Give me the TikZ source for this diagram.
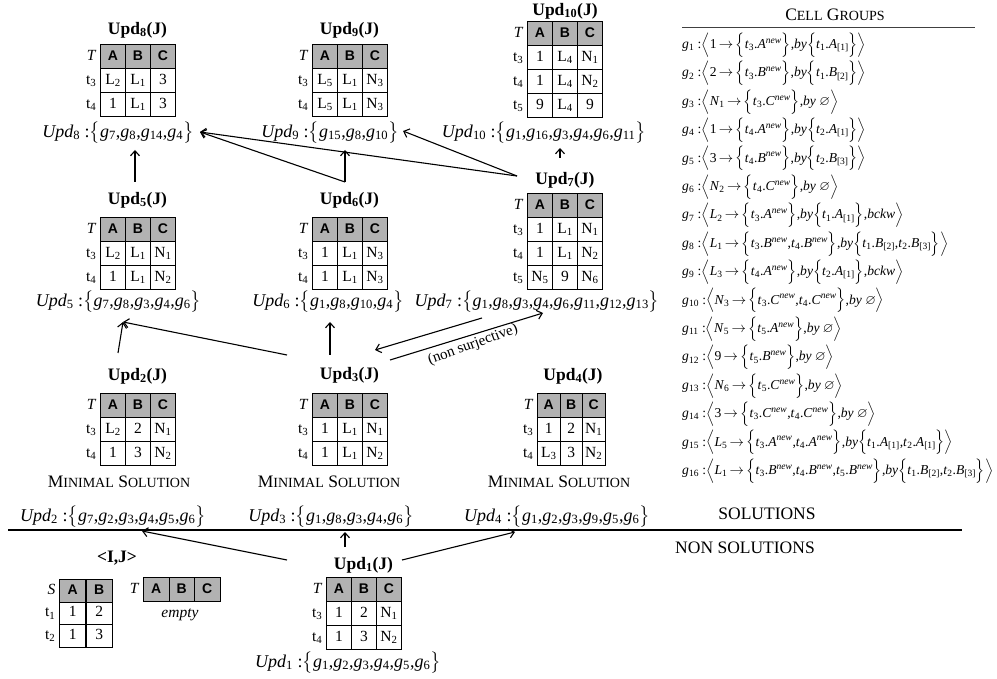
\documentclass[tikz,border=0pt]{standalone}
\usepackage{amsmath}
\usepackage{amssymb}
\usepackage{fontspec}
\setmainfont{Liberation Serif}
\newfontfamily\hdrfont{Liberation Sans}
\usetikzlibrary{matrix,arrows.meta}
\definecolor{hdrgray}{gray}{0.7}

% small helpers for the formulas
\newcommand\gi[1]{\textit{g}\textsubscript{#1}}
\newcommand\tv[1]{\textit{t}\textsubscript{#1}}
\newcommand\iv[2]{\textit{#1}\textsubscript{#2}}
\newcommand\nw[1]{\textit{#1}\textsuperscript{\itshape new}}
\newcommand\ix[2]{\textit{#1}\textsubscript{[#2]}}
\newcommand\Lbr{$\big\{$}
\newcommand\Rbr{$\big\}$}
\newcommand\Lang{$\Big\langle$}
\newcommand\Rang{$\Big\rangle$}
\newcommand\Lcb{$\Big\{$}
\newcommand\Rcb{$\Big\}$}
\newcommand\myto{$\,\rightarrow\,$}
\newcommand\Empt{$\varnothing$}
\newcommand\trow[1]{t\textsubscript{#1}}
\newcommand\Lx[1]{L\textsubscript{#1}}
\newcommand\Nx[1]{N\textsubscript{#1}}
\newcommand\smc[1]{{\fontsize{14}{14}\selectfont #1}}
% one cell group:  value -> targets , by sources
\newcommand\cg[3]{\Lang{}#1\myto\Lcb{}#2\Rcb,\textit{by}#3\Rang}
\newcommand\fm[2]{\textit{Upd}\textsubscript{#1} :\Lbr{}#2\Rbr}
\newcommand\rowlabs[2]{\foreach \r/\lab in {#2}
  \node[rowlbl] (#1-lab\r) at ([xshift=-4pt]#1-\r-1.base west) {\lab};}

\tikzset{
  cell/.style={draw, line width=1.1pt, minimum width=25pt, minimum height=24pt,
    text height=10.5pt, text depth=3.5pt,
    inner sep=0pt, font=\fontsize{15.5}{15.5}\selectfont},
  tbl/.style={matrix of nodes, ampersand replacement=\&, anchor=north west,
    inner sep=0pt, outer sep=0pt, column sep=-1.1pt, row sep=-1.1pt,
    nodes={cell},
    row 1/.style={nodes={fill=hdrgray, font=\hdrfont\bfseries\fontsize{14}{14}\selectfont}}},
  rowlbl/.style={anchor=base east, inner sep=0pt, font=\fontsize{15.5}{15.5}\selectfont},
  ttl/.style={font=\bfseries\fontsize{17.5}{17.5}\selectfont, inner sep=1pt},
  fmla/.style={font=\fontsize{18}{21}\selectfont, inner sep=1pt},
  note/.style={font=\fontsize{17.5}{18}\selectfont, inner sep=1pt},
  grp/.style={anchor=west, inner sep=0pt, font=\fontsize{13.6}{14.4}\selectfont},
  arr/.style={-{Straight Barb[length=5pt,width=9pt]}, line width=1.1pt},
}

\begin{document}
\begin{tikzpicture}[x=1pt,y=-1pt]
\useasboundingbox (0,0) rectangle (997,679);

% ---------- top row: Upd8, Upd9, Upd10 ----------
\node[ttl] (t8) at (137.5,30) {Upd\textsubscript{8}(J)};
\matrix (u8) at (100,44) [tbl] {
  A \& B \& C \\
  \Lx2 \& \Lx1 \& 3 \\
  1 \& \Lx1 \& 3 \\
};
\rowlabs{u8}{1/\textit{T},2/\trow3,3/\trow4}
\node[fmla] (f8) at (118,133) {\fm{8}{\gi{7},\gi{8},\gi{14},\gi{4}}};

\node[ttl] (t9) at (349.5,30) {Upd\textsubscript{9}(J)};
\matrix (u9) at (312,44) [tbl] {
  A \& B \& C \\
  \Lx5 \& \Lx1 \& \Nx3 \\
  \Lx5 \& \Lx1 \& \Nx3 \\
};
\rowlabs{u9}{1/\textit{T},2/\trow3,3/\trow4}
\node[fmla] (f9) at (330,133) {\fm{9}{\gi{15},\gi{8},\gi{10}}};

\node[ttl] (t10) at (565,11) {Upd\textsubscript{10}(J)};
\matrix (u10) at (527,21) [tbl] {
  A \& B \& C \\
  1 \& \Lx4 \& \Nx1 \\
  1 \& \Lx4 \& \Nx2 \\
  9 \& \Lx4 \& 9 \\
};
\rowlabs{u10}{1/\textit{T},2/\trow3,3/\trow4,4/\trow5}
\node[fmla] (f10) at (544,133) {\fm{10}{\gi{1},\gi{16},\gi{3},\gi{4},\gi{6},\gi{11}}};

% ---------- middle row: Upd5, Upd6, Upd7 ----------
\node[ttl] (t5) at (137.5,200) {Upd\textsubscript{5}(J)};
\matrix (u5) at (100,217) [tbl] {
  A \& B \& C \\
  \Lx2 \& \Lx1 \& \Nx1 \\
  1 \& \Lx1 \& \Nx2 \\
};
\rowlabs{u5}{1/\textit{T},2/\trow3,3/\trow4}
\node[fmla] (f5) at (118.5,302) {\fm{5}{\gi{7},\gi{8},\gi{3},\gi{4},\gi{6}}};

\node[ttl] (t6) at (349.5,200) {Upd\textsubscript{6}(J)};
\matrix (u6) at (312,217) [tbl] {
  A \& B \& C \\
  1 \& \Lx1 \& \Nx3 \\
  1 \& \Lx1 \& \Nx3 \\
};
\rowlabs{u6}{1/\textit{T},2/\trow3,3/\trow4}
\node[fmla] (f6) at (328,302) {\fm{6}{\gi{1},\gi{8},\gi{10},\gi{4}}};

\node[ttl] (t7) at (565,180) {Upd\textsubscript{7}(J)};
\matrix (u7) at (527,193) [tbl] {
  A \& B \& C \\
  1 \& \Lx1 \& \Nx1 \\
  1 \& \Lx1 \& \Nx2 \\
  \Nx5 \& 9 \& \Nx6 \\
};
\rowlabs{u7}{1/\textit{T},2/\trow3,3/\trow4,4/\trow5}
\node[fmla] (f7) at (537,302) {\fm{7}{\gi{1},\gi{8},\gi{3},\gi{4},\gi{6},\gi{11},\gi{12},\gi{13}}};

% ---------- minimal solutions: Upd2, Upd3, Upd4 ----------
\node[ttl] (t2) at (137.5,376) {Upd\textsubscript{2}(J)};
\matrix (u2) at (100,393) [tbl] {
  A \& B \& C \\
  \Lx2 \& 2 \& \Nx1 \\
  1 \& 3 \& \Nx2 \\
};
\rowlabs{u2}{1/\textit{T},2/\trow3,3/\trow4}
\node[note] (m2) at (119,482) {M\smc{INIMAL} S\smc{OLUTION}};
\node[fmla] (f2) at (113,517) {\fm{2}{\gi{7},\gi{2},\gi{3},\gi{4},\gi{5},\gi{6}}};

\node[ttl] (t3) at (349.5,375) {Upd\textsubscript{3}(J)};
\matrix (u3) at (312,393) [tbl] {
  A \& B \& C \\
  1 \& \Lx1 \& \Nx1 \\
  1 \& \Lx1 \& \Nx2 \\
};
\rowlabs{u3}{1/\textit{T},2/\trow3,3/\trow4}
\node[note] (m3) at (329,482) {M\smc{INIMAL} S\smc{OLUTION}};
\node[fmla] (f3) at (331,517) {\fm{3}{\gi{1},\gi{8},\gi{3},\gi{4},\gi{6}}};

\node[ttl] (t4) at (573,376) {Upd\textsubscript{4}(J)};
\matrix (u4) at (537,393) [tbl, nodes={minimum width=22.5pt}] {
  A \& B \& C \\
  1 \& 2 \& \Nx1 \\
  \Lx3 \& 3 \& \Nx2 \\
};
\rowlabs{u4}{1/\textit{T},2/\trow3,3/\trow4}
\node[note] (m4) at (559,482) {M\smc{INIMAL} S\smc{OLUTION}};
\node[fmla] (f4) at (557,517) {\fm{4}{\gi{1},\gi{2},\gi{3},\gi{9},\gi{5},\gi{6}}};

% ---------- separator between solutions and non solutions ----------
\coordinate (sepL) at (8,530);
\coordinate (sepR) at (962,530);
\draw[line width=1.8pt] (sepL) -- (sepR);
\node[note] (sol) at (767,514) {SOLUTIONS};
\node[note] (nsol) at (745,548) {NON SOLUTIONS};

% ---------- source instance <I,J> ----------
\node[ttl] (tij) at (117,558) {<I,J>};
\matrix (us) at (59,579) [tbl, nodes={minimum width=26.5pt, minimum height=22.5pt}] {
  A \& B \\
  1 \& 2 \\
  1 \& 3 \\
};
\rowlabs{us}{1/\textit{S},2/\trow1,3/\trow2}
\matrix (ut) at (143,577) [tbl, nodes={minimum width=25.5pt}] {
  A \& B \& C \\
};
\rowlabs{ut}{1/\textit{T}}
\node[note, font=\itshape\fontsize{15.5}{15.5}\selectfont] (emp) at (180,615) {empty};

% ---------- Upd1 ----------
\node[ttl] (t1) at (363.5,565) {Upd\textsubscript{1}(J)};
\matrix (u1) at (326,577) [tbl] {
  A \& B \& C \\
  1 \& 2 \& \Nx1 \\
  1 \& 3 \& \Nx2 \\
};
\rowlabs{u1}{1/\textit{T},2/\trow3,3/\trow4}
\node[fmla] (f1) at (348,663) {\fm{1}{\gi{1},\gi{2},\gi{3},\gi{4},\gi{5},\gi{6}}};

% ---------- derivation arrows ----------
\draw[arr] ([shift={(-2.5,-18)}]t5.center) -- ([shift={(17,17)}]f8.center);
\draw[arr] ([shift={(-4.5,-18)}]t6.center) -- ([shift={(15,17)}]f9.center);
\draw[arr] ([shift={(-4.5,-18)}]t6.center) -- ([shift={(82,-1)}]f8.center);
\draw[arr] ([shift={(-48,-4)}]t7.center) -- ([shift={(82,-1)}]f8.center);
\draw[arr] ([shift={(-48,-4)}]t7.center) -- ([shift={(73,-2)}]f9.center);
\draw[arr] ([shift={(-5,-22)}]t7.center) -- ([shift={(16,15)}]f10.center);
\draw[arr] ([shift={(-19.5,-23)}]t2.center) -- ([shift={(4.5,20)}]f5.center);
\draw[arr] ([shift={(-62.5,-20)}]t3.center) -- ([shift={(4.5,20)}]f5.center);
\draw[arr] ([shift={(-19.5,-20)}]t3.center) -- ([shift={(2,20)}]f6.center);
\draw[arr] ([shift={(-76.5,-5)}]t1.center) -- ([shift={(29,14)}]f2.center);
\draw[arr] ([shift={(-18.5,-18)}]t1.center) -- ([shift={(14,15)}]f3.center);
\draw[arr] ([shift={(38.5,-5)}]t1.center) -- ([shift={(-42,15)}]f4.center);
\draw[arr] ([shift={(-55,16)}]f7.center) -- ([shift={(25.5,-25)}]t3.center);
\draw[arr] ([shift={(40.5,-15)}]t3.center) -- ([shift={(6,11)}]f7.center);
\node[note, font=\fontsize{15}{15}\selectfont, rotate=20] (ns) at (473,345) {(non surjective)};

% ---------- cell groups ----------
\node[note] (cgh) at (835,15) {C\smc{ELL} G\smc{ROUPS}};
\coordinate (cgL) at (682,28);
\coordinate (cgR) at (975,28);
\draw[line width=1pt, black!75] (cgL) -- (cgR);
\node[grp] (g1) at (682,45.0) {\gi{1} :\cg{1}{\tv{3}.\nw{A}}{\Lcb\tv{1}.\ix{A}{1}\Rcb}};
\node[grp] (g2) at (682,73.4) {\gi{2} :\cg{2}{\tv{3}.\nw{B}}{\Lcb\tv{1}.\ix{B}{2}\Rcb}};
\node[grp] (g3) at (682,101.8) {\gi{3} :\cg{\iv{N}{1}}{\tv{3}.\nw{C}}{ \Empt}};
\node[grp] (g4) at (682,130.2) {\gi{4} :\cg{1}{\tv{4}.\nw{A}}{\Lcb\tv{2}.\ix{A}{1}\Rcb}};
\node[grp] (g5) at (682,158.6) {\gi{5} :\cg{3}{\tv{4}.\nw{B}}{\Lcb\tv{2}.\ix{B}{3}\Rcb}};
\node[grp] (g6) at (682,187.0) {\gi{6} :\cg{\iv{N}{2}}{\tv{4}.\nw{C}}{ \Empt}};
\node[grp] (g7) at (682,215.4) {\gi{7} :\cg{\iv{L}{2}}{\tv{3}.\nw{A}}{\Lcb\tv{1}.\ix{A}{1}\Rcb,\textit{bckw}}};
\node[grp] (g8) at (682,243.8) {\gi{8} :\cg{\iv{L}{1}}{\tv{3}.\nw{B},\tv{4}.\nw{B}}{\Lcb\tv{1}.\ix{B}{2},\tv{2}.\ix{B}{3}\Rcb}};
\node[grp] (g9) at (682,272.2) {\gi{9} :\cg{\iv{L}{3}}{\tv{4}.\nw{A}}{\Lcb\tv{2}.\ix{A}{1}\Rcb,\textit{bckw}}};
\node[grp] (g10) at (682,300.6) {\gi{10} :\cg{\iv{N}{3}}{\tv{3}.\nw{C},\tv{4}.\nw{C}}{ \Empt}};
\node[grp] (g11) at (682,329.0) {\gi{11} :\cg{\iv{N}{5}}{\tv{5}.\nw{A}}{ \Empt}};
\node[grp] (g12) at (682,357.4) {\gi{12} :\cg{9}{\tv{5}.\nw{B}}{ \Empt}};
\node[grp] (g13) at (682,385.8) {\gi{13} :\cg{\iv{N}{6}}{\tv{5}.\nw{C}}{ \Empt}};
\node[grp] (g14) at (682,414.2) {\gi{14} :\cg{3}{\tv{3}.\nw{C},\tv{4}.\nw{C}}{ \Empt}};
\node[grp] (g15) at (682,442.6) {\gi{15} :\cg{\iv{L}{5}}{\tv{3}.\nw{A},\tv{4}.\nw{A}}{\Lcb\tv{1}.\ix{A}{1},\tv{2}.\ix{A}{1}\Rcb}};
\node[grp] (g16) at (682,471.0) {\gi{16} :\cg{\iv{L}{1}}{\tv{3}.\nw{B},\tv{4}.\nw{B},\tv{5}.\nw{B}}{\Lcb\tv{1}.\ix{B}{2},\tv{2}.\ix{B}{3}\Rcb}};
\end{tikzpicture}
\end{document}
